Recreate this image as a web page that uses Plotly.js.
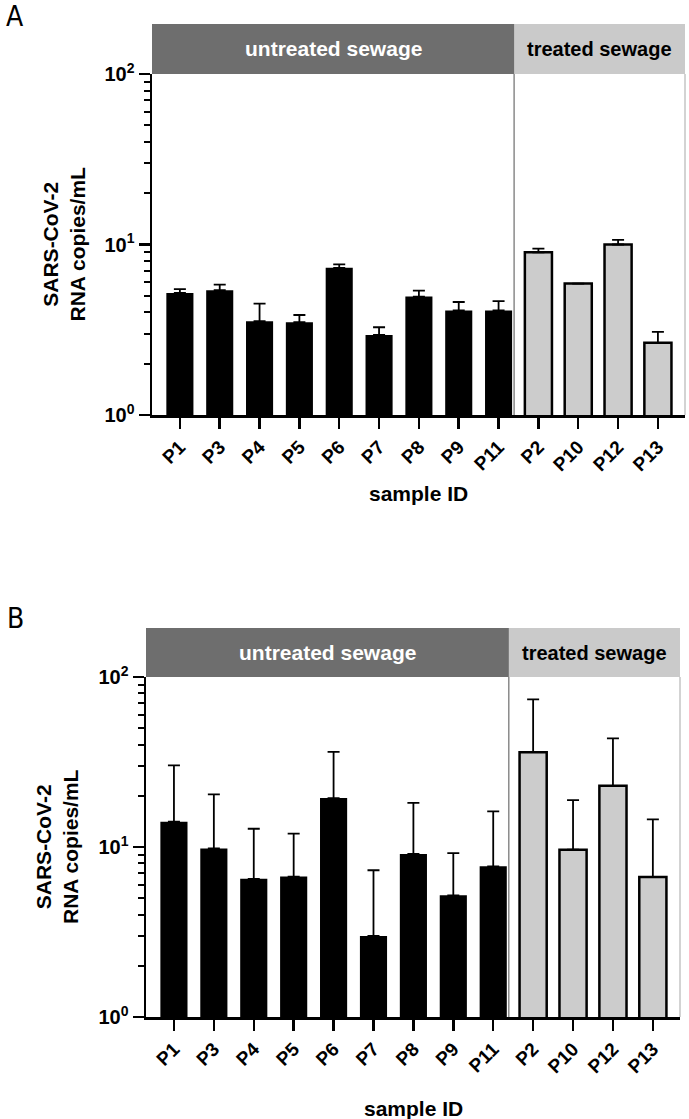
<!DOCTYPE html>
<html>
<head>
<meta charset="utf-8">
<script src="https://cdn.plot.ly/plotly-3.0.1.min.js"></script>
<style>
  html, body { margin: 0; padding: 0; background: #ffffff; }
  #chart { width: 689px; height: 1119px; }
</style>
</head>
<body>
<div id="chart"></div>
<script>
// ---- data ----
const untreatedIDs = ['P1', 'P3', 'P4', 'P5', 'P6', 'P7', 'P8', 'P9', 'P11'];
const treatedIDs = ['P2', 'P10', 'P12', 'P13'];

// Panel A
const valuesA_untreated = [5.2, 5.4, 3.55, 3.5, 7.3, 2.95, 4.95, 4.1, 4.1];
const errA_untreated    = [0.28, 0.42, 0.95, 0.36, 0.34, 0.32, 0.42, 0.5, 0.55];
const valuesA_treated   = [9.0, 5.9, 10.0, 2.65];
const errA_treated      = [0.45, 0, 0.65, 0.42];

// Panel B
const valuesB_untreated = [14.1, 9.8, 6.5, 6.7, 19.4, 3.0, 9.1, 5.2, 7.7];
const errB_untreated    = [16.1, 10.6, 6.3, 5.3, 16.9, 4.3, 9.1, 4.0, 8.5];
const valuesB_treated   = [36.1, 9.65, 22.9, 6.65];
const errB_treated      = [37.8, 9.2, 20.6, 7.9];

const tickValues = [1, 10, 100];
const tickLabels = ['10<sup>0</sup>', '10<sup>1</sup>', '10<sup>2</sup>'];
const minorTickValues = [2, 3, 4, 5, 6, 7, 8, 9, 20, 30, 40, 50, 60, 70, 80, 90];

const groupLabels = ['untreated sewage', 'treated sewage'];
const yTitle = 'SARS-CoV-2<br>RNA copies/mL';
const xTitle = 'sample ID';
const panelLetters = ['A', 'B'];

// ---- geometry helpers ----
const W = 689, H = 1119;
const px = v => v / W;
const py = v => 1 - v / H;
const FONT = "'Liberation Sans', Arial, Helvetica, sans-serif";
const allIDs = untreatedIDs.concat(treatedIDs);
const SEP = 8.39;
const XR = [-0.70, 12.68];

function bars(ids, vals, errs, color, outline, xa, ya) {
  return {
    type: 'bar', x: ids, y: vals, xaxis: xa, yaxis: ya, width: 0.68,
    marker: { color: color, line: { color: '#000', width: outline } },
    error_y: { type: 'data', array: errs, arrayminus: errs.map(() => 0), symmetric: false,
               visible: true, color: '#000', thickness: 1.8, width: 6 },
    hoverinfo: 'x+y', showlegend: false
  };
}

const data = [
  bars(untreatedIDs, valuesA_untreated, errA_untreated, '#000000', 0, 'x', 'y'),
  bars(treatedIDs, valuesA_treated, errA_treated, '#cccccc', 2.5, 'x', 'y'),
  bars(untreatedIDs, valuesB_untreated, errB_untreated, '#000000', 0, 'x2', 'y2'),
  bars(treatedIDs, valuesB_treated, errB_treated, '#cccccc', 2.5, 'x2', 'y2')
];

function xAxis(domain, anchor) {
  return {
    domain: domain, anchor: anchor, type: 'category',
    categoryorder: 'array', categoryarray: allIDs, range: XR,
    showline: true, linecolor: '#000', linewidth: 2.5, mirror: false,
    ticks: 'outside', ticklen: 11, tickwidth: 2.5, tickcolor: '#000',
    tickangle: -45, showgrid: false, zeroline: false, fixedrange: true,
    tickfont: { family: FONT, size: 19, color: '#000', weight: 'bold' }
  };
}
function yAxis(domain, anchor) {
  return {
    domain: domain, anchor: anchor, type: 'log', range: [0, 2],
    tickmode: 'array', tickvals: tickValues, ticktext: tickLabels,
    showline: true, linecolor: '#000', linewidth: 2.5,
    ticks: 'outside', ticklen: 11, tickwidth: 2.5, tickcolor: '#000',
    minor: { tickmode: 'array', tickvals: minorTickValues, ticks: 'outside',
             ticklen: 6, tickwidth: 2, tickcolor: '#000', showgrid: false },
    showgrid: false, zeroline: false, fixedrange: true,
    tickfont: { family: FONT, size: 20, color: '#000', weight: 'bold' }
  };
}

// panel pixel boxes
const A = { l: 152, r: 685, t: 74, b: 415, hdr: 50, ytx: 63, xtY: 494, let: [15, 17] };
const B = { l: 146, r: 680, t: 677, b: 1017, hdr: 49, ytx: 57, xtY: 1108, let: [15, 618] };

const shapes = [];
const annotations = [];
[[A, 'x', 'y'], [B, 'x2', 'y2']].forEach(([P, xa, ya], i) => {
  const ph = P.b - P.t;
  const top = 1 + P.hdr / ph;
  shapes.push(
    { type: 'rect', xref: xa + ' domain', yref: ya + ' domain', x0: 0, x1: 1, y0: 1, y1: top,
      fillcolor: '#cacaca', line: { width: 0 }, layer: 'below' },
    { type: 'rect', xref: xa + ' domain', yref: ya + ' domain', x0: 0, x1: (SEP - XR[0]) / (XR[1] - XR[0]), y0: 1, y1: top,
      fillcolor: '#6e6e6e', line: { width: 0 }, layer: 'below' },
    { type: 'line', xref: xa, yref: ya + ' domain', x0: SEP, x1: SEP, y0: 0, y1: 1,
      line: { color: '#8a8a8a', width: 1.5 }, layer: 'below' },
    { type: 'line', xref: xa + ' domain', yref: ya + ' domain', x0: 1, x1: 1, y0: 0, y1: 1,
      line: { color: '#c4c4c4', width: 1.5 }, layer: 'below' }
  );
  const sepPx = P.l + (SEP - XR[0]) / (XR[1] - XR[0]) * (P.r - P.l);
  const hy = P.t - P.hdr / 2;
  annotations.push(
    { xref: 'paper', yref: 'paper', x: px((P.l + sepPx) / 2), y: py(hy), text: groupLabels[0],
      showarrow: false, xanchor: 'center', yanchor: 'middle',
      font: { family: FONT, size: 21, color: '#ffffff', weight: 'bold' } },
    { xref: 'paper', yref: 'paper', x: px((sepPx + P.r) / 2), y: py(hy), text: groupLabels[1],
      showarrow: false, xanchor: 'center', yanchor: 'middle',
      font: { family: FONT, size: 20, color: '#000000', weight: 'bold' } },
    { xref: 'paper', yref: 'paper', x: px(P.ytx), y: py((P.t + P.b) / 2), text: yTitle,
      textangle: -90, showarrow: false, xanchor: 'center', yanchor: 'middle',
      font: { family: FONT, size: 21, color: '#000', weight: 'bold' } },
    { xref: 'paper', yref: 'paper', x: px((P.l + P.r) / 2), y: py(P.xtY), text: xTitle,
      showarrow: false, xanchor: 'center', yanchor: 'middle',
      font: { family: FONT, size: 21, color: '#000', weight: 'bold' } },
    { xref: 'paper', yref: 'paper', x: px(P.let[0]), y: py(P.let[1]), text: panelLetters[i],
      showarrow: false, xanchor: 'center', yanchor: 'middle',
      font: { family: "'Liberation Sans Narrow', 'DejaVu Sans Condensed', Arial, sans-serif", size: 28, color: '#000' } }
  );
});

const layout = {
  width: W, height: H,
  margin: { l: 0, r: 0, t: 0, b: 0 },
  paper_bgcolor: '#ffffff', plot_bgcolor: 'rgba(0,0,0,0)',
  barmode: 'overlay', showlegend: false,
  font: { family: FONT },
  xaxis: xAxis([px(A.l), px(A.r)], 'y'),
  yaxis: yAxis([py(A.b), py(A.t)], 'x'),
  xaxis2: xAxis([px(B.l), px(B.r)], 'y2'),
  yaxis2: yAxis([py(B.b), py(B.t)], 'x2'),
  shapes: shapes, annotations: annotations
};

Plotly.newPlot('chart', data, layout, { displayModeBar: false, staticPlot: true });
</script>
</body>
</html>
